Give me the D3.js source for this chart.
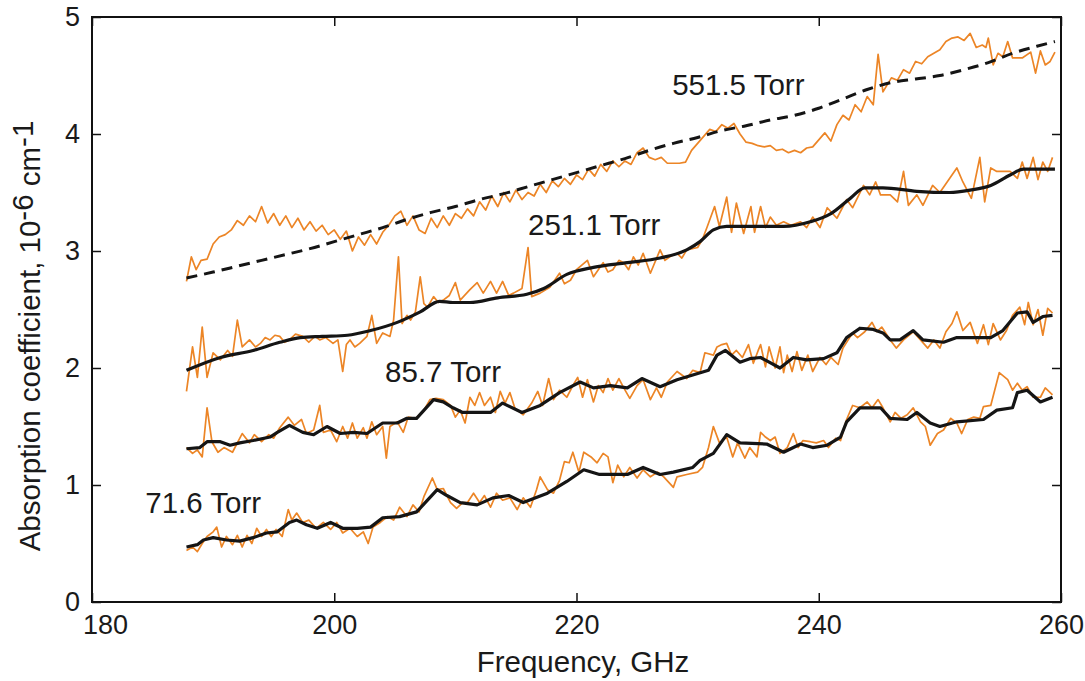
<!DOCTYPE html>
<html>
<head>
<meta charset="utf-8">
<script src="https://cdn.jsdelivr.net/npm/d3@7"></script>
<style>
  html, body { margin: 0; padding: 0; background: #fff; }
  svg { display: block; font-family: "Liberation Sans", Arial, sans-serif; }
</style>
</head>
<body>
<svg id="chart" width="1085" height="681"></svg>
<script>
// ---------------- DATA (frequency GHz, absorption 1e-6 cm^-1) ----------------
const xTicks = [180, 200, 220, 240, 260];
const yTicks = [0, 1, 2, 3, 4, 5];

const meas551 = [
[187.8,2.74],[188.2,2.95],[188.6,2.84],[189.0,2.92],[189.5,2.93],[190.0,3.06],[190.5,3.12],[191.0,3.14],[191.5,3.18],[192.0,3.26],
[192.5,3.22],[193.0,3.30],[193.5,3.25],[194.0,3.38],[194.5,3.24],[195.0,3.32],[195.5,3.22],[196.0,3.30],[196.5,3.20],[197.0,3.28],
[197.5,3.18],[198.0,3.25],[198.5,3.17],[199.0,3.22],[199.5,3.14],[200.0,3.18],[200.5,3.10],[201.0,3.17],[201.5,3.00],[202.0,3.12],
[202.5,3.05],[203.0,3.14],[203.5,3.06],[204.0,3.16],[204.5,3.22],[205.0,3.30],[205.5,3.34],[206.0,3.22],[206.5,3.30],[207.0,3.18],
[207.5,3.15],[208.0,3.28],[208.5,3.20],[209.0,3.30],[209.5,3.22],[210.0,3.32],[210.5,3.28],[211.0,3.36],[211.5,3.30],[212.0,3.42],
[212.5,3.35],[213.0,3.47],[213.5,3.38],[214.0,3.50],[214.5,3.42],[215.0,3.52],[215.5,3.44],[216.0,3.50],[216.5,3.47],[217.0,3.57],
[217.5,3.50],[218.0,3.60],[218.5,3.55],[219.0,3.62],[219.5,3.57],[220.0,3.65],[220.5,3.61],[221.0,3.70],[221.5,3.64],[222.0,3.74],
[222.5,3.68],[223.0,3.77],[223.5,3.72],[224.0,3.77],[224.5,3.74],[225.0,3.84],[225.5,3.88],[226.0,3.80],[226.5,3.78],[227.0,3.80],
[227.5,3.75],[228.5,3.75],[229.0,3.76],[229.5,3.86],[230.0,3.92],[230.5,3.98],[231.0,4.04],[231.5,4.02],[232.0,4.08],[232.5,4.05],
[233.0,4.09],[233.5,4.00],[234.0,3.93],[234.5,3.92],[235.0,3.90],[235.5,3.89],[236.0,3.90],[236.5,3.86],[237.0,3.87],[237.5,3.84],
[238.0,3.86],[238.5,3.84],[239.0,3.88],[239.5,3.89],[240.0,3.95],[240.5,4.01],[241.0,3.94],[241.5,4.08],[242.0,4.16],[242.5,4.12],
[243.0,4.25],[243.5,4.19],[244.0,4.32],[244.5,4.25],[244.9,4.68],[245.3,4.36],[246.0,4.48],[246.5,4.46],[247.0,4.55],[247.5,4.52],
[248.0,4.62],[248.5,4.60],[249.0,4.66],[249.5,4.69],[250.0,4.72],[250.5,4.79],[251.0,4.82],[251.5,4.83],[252.0,4.80],[252.5,4.86],
[253.0,4.74],[253.5,4.76],[253.8,4.74],[254.0,4.82],[254.4,4.59],[254.8,4.69],[255.2,4.66],[255.6,4.79],[256.0,4.65],[256.8,4.65],
[257.5,4.70],[257.9,4.52],[258.3,4.71],[258.7,4.59],[259.1,4.62],[259.5,4.70]
];
const fit551 = [
[187.8,2.77],[190,2.82],[192,2.87],[194,2.92],[196,2.97],[198,3.02],[200,3.08],[202,3.14],[204,3.20],[206,3.27],
[208,3.33],[210,3.38],[212,3.44],[214,3.49],[216,3.55],[218,3.61],[220,3.67],[222,3.73],[224,3.79],[226,3.86],
[228,3.92],[230,3.97],[232,4.03],[234,4.07],[236,4.12],[238,4.16],[240,4.22],[242,4.30],[244,4.38],[246,4.44],
[248,4.47],[250,4.50],[252,4.55],[254,4.61],[256,4.69],[258,4.75],[259.5,4.79]
];

const meas251 = [
[187.8,1.80],[188.3,2.18],[188.7,1.92],[189.1,2.35],[189.5,1.92],[190.0,2.13],[190.6,2.07],[191.2,2.15],[191.6,2.10],[192.0,2.41],
[192.4,2.18],[193.0,2.24],[193.5,2.18],[193.9,2.21],[194.3,2.26],[194.7,2.24],[195.1,2.28],[195.5,2.27],[195.9,2.22],[196.3,2.24],
[196.8,2.29],[197.4,2.27],[197.9,2.22],[198.4,2.27],[198.8,2.24],[199.3,2.26],[199.9,2.21],[200.3,2.24],[200.7,1.97],[201.0,2.20],
[201.3,2.24],[201.7,2.18],[202.1,2.21],[202.7,2.27],[203.1,2.45],[203.5,2.21],[204.0,2.30],[204.6,2.27],[204.9,2.41],[205.3,2.95],
[205.6,2.38],[206.0,2.45],[206.3,2.41],[206.7,2.48],[207.1,2.78],[207.4,2.55],[207.7,2.52],[208.2,2.61],[208.6,2.56],[209.0,2.58],
[209.5,2.62],[210.0,2.73],[210.4,2.58],[211.2,2.67],[211.8,2.73],[212.3,2.64],[212.9,2.74],[213.4,2.64],[213.9,2.74],[214.4,2.62],
[214.8,2.64],[215.5,2.68],[216.0,3.03],[216.3,2.61],[217.0,2.64],[217.8,2.69],[218.6,2.81],[219.0,2.72],[219.5,2.75],[220.0,2.84],
[220.9,2.92],[221.4,2.78],[222.2,2.90],[222.6,2.82],[223.0,2.84],[223.5,2.92],[223.9,2.90],[224.3,2.84],[224.7,2.95],[225.1,2.88],
[225.5,2.98],[226.1,2.81],[226.9,3.01],[227.3,2.92],[227.7,2.95],[228.3,2.98],[228.7,2.94],[229.1,3.01],[230.0,3.03],[230.4,3.10],
[230.8,3.21],[231.4,3.38],[231.8,3.21],[232.4,3.46],[232.8,3.16],[233.2,3.41],[233.8,3.15],[234.4,3.38],[234.7,3.16],[235.2,3.38],
[235.6,3.20],[236.0,3.29],[236.5,3.22],[237.1,3.25],[237.7,3.22],[238.5,3.25],[239.0,3.20],[239.5,3.29],[240.1,3.20],[240.7,3.37],
[241.5,3.28],[242.3,3.44],[242.8,3.37],[243.7,3.56],[244.2,3.48],[244.7,3.59],[245.1,3.48],[245.9,3.48],[246.5,3.42],[247.0,3.68],
[247.4,3.39],[248.1,3.48],[248.6,3.39],[249.4,3.56],[250.0,3.50],[250.8,3.62],[251.4,3.71],[251.9,3.59],[252.6,3.45],[253.3,3.80],
[253.7,3.42],[254.2,3.71],[254.7,3.68],[255.2,3.68],[255.8,3.68],[256.4,3.62],[256.8,3.76],[257.2,3.62],[257.7,3.80],[258.1,3.61],
[258.5,3.76],[258.9,3.68],[259.3,3.80]
];
const fit251 = [
[187.8,1.98],[190.6,2.09],[193.3,2.15],[195.5,2.22],[197.2,2.26],[199.0,2.27],[201.1,2.28],[203.0,2.32],[205.2,2.39],[207.1,2.48],
[208.7,2.57],[209.8,2.56],[211.2,2.56],[213.5,2.60],[215.9,2.63],[217.3,2.68],[219.2,2.80],[221.4,2.86],[224.2,2.90],[226.9,2.94],
[229.1,3.01],[230.2,3.08],[231.3,3.18],[232.4,3.21],[235.2,3.21],[237.1,3.21],[239.3,3.25],[241.0,3.32],[242.6,3.45],[243.8,3.54],
[245.3,3.54],[248.1,3.51],[250.8,3.50],[252.5,3.52],[254.2,3.56],[255.8,3.65],[256.9,3.70],[259.1,3.70],[259.5,3.70]
];

const meas857 = [
[187.8,1.32],[188.3,1.27],[188.7,1.30],[189.1,1.24],[189.5,1.66],[189.9,1.37],[190.4,1.28],[190.9,1.32],[191.6,1.28],[192.0,1.36],
[192.4,1.44],[193.0,1.36],[193.4,1.43],[194.0,1.37],[194.6,1.43],[195.0,1.40],[195.5,1.49],[196.2,1.58],[196.7,1.51],[197.3,1.56],
[197.7,1.44],[198.3,1.47],[198.8,1.68],[199.1,1.45],[199.7,1.47],[200.2,1.37],[200.7,1.50],[201.1,1.40],[201.5,1.53],[201.9,1.40],
[202.4,1.49],[202.7,1.40],[203.1,1.54],[203.5,1.43],[204.0,1.50],[204.3,1.23],[204.6,1.50],[205.2,1.54],[205.7,1.45],[206.1,1.58],
[206.7,1.57],[207.3,1.62],[207.9,1.73],[208.4,1.74],[209.0,1.73],[209.6,1.68],[210.0,1.58],[210.4,1.64],[210.8,1.53],[211.2,1.75],
[211.6,1.68],[212.0,1.79],[212.4,1.68],[212.9,1.75],[213.3,1.62],[213.7,1.80],[214.1,1.70],[214.5,1.79],[214.9,1.66],[215.6,1.60],
[216.3,1.70],[216.8,1.80],[217.2,1.68],[217.7,1.91],[218.1,1.73],[218.6,1.81],[219.2,1.75],[219.7,1.85],[220.1,1.92],[220.5,1.75],
[220.9,1.90],[221.4,1.71],[221.8,1.85],[222.2,1.79],[222.6,1.91],[223.0,1.81],[223.5,1.91],[223.9,1.83],[224.4,1.74],[225.0,1.85],
[225.5,1.90],[226.1,1.73],[226.6,1.83],[227.0,1.75],[227.5,1.88],[228.3,1.97],[229.1,1.91],[229.6,1.98],[230.2,1.96],[230.6,2.13],
[231.3,2.11],[231.6,2.18],[232.0,2.20],[232.4,2.21],[232.8,2.11],[233.2,2.15],[233.7,2.09],[234.2,2.20],[234.6,2.04],[235.0,2.15],
[235.2,2.20],[235.6,2.01],[235.9,2.18],[236.4,2.00],[236.8,2.18],[237.1,1.96],[237.4,2.11],[237.8,1.97],[238.2,2.14],[238.6,1.98],
[239.1,2.11],[239.5,1.97],[240.1,2.09],[240.6,2.03],[241.0,2.09],[241.6,2.03],[242.0,2.17],[242.8,2.30],[243.2,2.26],[243.8,2.31],
[244.4,2.39],[244.8,2.31],[245.2,2.35],[245.9,2.24],[246.4,2.17],[247.0,2.24],[247.8,2.31],[248.4,2.24],[249.0,2.17],[249.5,2.24],
[250.0,2.17],[250.5,2.31],[251.0,2.38],[251.4,2.48],[251.9,2.32],[252.5,2.39],[253.1,2.21],[253.6,2.37],[254.0,2.20],[254.4,2.38],
[255.0,2.24],[255.5,2.32],[256.0,2.45],[256.6,2.52],[257.0,2.37],[257.3,2.56],[257.7,2.37],[258.1,2.50],[258.5,2.28],[258.9,2.51],
[259.3,2.47]
];
const fit857 = [
[187.8,1.31],[188.9,1.32],[189.5,1.37],[190.6,1.37],[191.4,1.34],[192.2,1.36],[193.3,1.38],[194.7,1.41],[195.3,1.45],[196.3,1.51],
[197.4,1.45],[198.3,1.43],[199.4,1.50],[200.5,1.44],[201.6,1.45],[202.7,1.44],[204.0,1.53],[205.2,1.53],[206.0,1.57],[206.8,1.57],
[208.2,1.73],[209.0,1.71],[209.8,1.66],[210.6,1.62],[212.9,1.62],[213.9,1.70],[215.5,1.62],[217.0,1.68],[218.6,1.79],[220.3,1.88],
[221.4,1.83],[222.8,1.85],[224.2,1.83],[225.4,1.91],[226.9,1.84],[228.3,1.90],[229.6,1.94],[230.9,1.98],[231.6,2.11],[232.3,2.15],
[233.5,2.05],[234.3,2.08],[235.2,2.09],[236.8,2.00],[237.9,2.09],[239.0,2.07],[240.4,2.08],[241.5,2.13],[242.3,2.26],[243.4,2.34],
[244.5,2.33],[245.3,2.30],[245.9,2.24],[246.7,2.24],[247.8,2.32],[248.6,2.24],[250.3,2.22],[251.4,2.26],[253.1,2.26],[254.2,2.26],
[255.2,2.32],[256.4,2.47],[257.2,2.48],[257.7,2.39],[258.5,2.44],[259.3,2.45]
];

const meas716 = [
[187.8,0.44],[188.3,0.47],[188.7,0.43],[189.1,0.50],[189.5,0.56],[190.0,0.60],[190.3,0.64],[190.7,0.47],[191.1,0.56],[191.6,0.49],
[192.0,0.57],[192.4,0.47],[192.8,0.57],[193.2,0.50],[193.6,0.63],[194.0,0.56],[194.4,0.62],[194.8,0.56],[195.2,0.62],[195.7,0.56],
[196.2,0.79],[196.5,0.70],[196.9,0.76],[197.4,0.68],[197.9,0.70],[198.5,0.63],[199.1,0.68],[199.7,0.62],[200.2,0.68],[200.7,0.59],
[201.3,0.63],[201.9,0.56],[202.4,0.60],[202.8,0.50],[203.2,0.64],[203.8,0.68],[204.4,0.73],[204.9,0.70],[205.4,0.81],[206.0,0.73],
[206.5,0.83],[207.0,0.77],[207.4,0.90],[208.1,1.06],[208.5,0.96],[209.0,0.97],[209.6,0.85],[210.1,0.80],[210.6,0.85],[211.0,0.85],
[211.5,0.93],[212.0,0.85],[212.4,0.91],[212.9,0.81],[213.4,0.93],[213.9,0.87],[214.5,0.89],[215.1,0.79],[215.6,0.89],[216.2,0.81],
[216.7,0.96],[217.0,1.07],[217.6,0.96],[218.1,0.93],[218.6,1.04],[219.0,1.20],[219.4,1.19],[219.7,1.28],[220.2,1.11],[220.6,1.28],
[221.2,1.24],[221.7,1.19],[222.2,1.27],[222.6,1.24],[223.0,1.02],[223.4,1.17],[223.9,1.07],[224.4,1.15],[225.0,1.06],[225.5,1.13],
[226.1,1.07],[226.7,1.11],[227.2,1.07],[228.0,0.98],[228.3,1.07],[229.1,1.09],[230.0,1.11],[230.4,1.15],[230.9,1.32],[231.3,1.50],
[231.8,1.36],[232.4,1.41],[232.9,1.24],[233.3,1.36],[233.9,1.23],[234.3,1.32],[234.9,1.24],[235.2,1.45],[235.6,1.41],[236.0,1.38],
[236.4,1.41],[236.8,1.27],[237.4,1.32],[237.9,1.44],[238.3,1.32],[238.7,1.38],[239.3,1.37],[239.8,1.36],[240.4,1.38],[240.8,1.32],
[241.4,1.40],[241.8,1.38],[242.3,1.56],[242.8,1.68],[243.4,1.66],[244.0,1.71],[244.4,1.66],[244.9,1.73],[245.3,1.66],[245.9,1.54],
[246.3,1.62],[246.8,1.57],[247.3,1.60],[247.8,1.66],[248.4,1.54],[248.8,1.50],[249.2,1.34],[249.8,1.44],[250.3,1.47],[250.9,1.57],
[251.4,1.53],[251.8,1.44],[252.3,1.56],[252.8,1.58],[253.3,1.57],[253.6,1.67],[254.2,1.68],[254.9,1.96],[255.6,1.90],[256.0,1.81],
[256.4,1.87],[256.8,1.81],[257.2,1.84],[257.7,1.75],[258.3,1.75],[258.7,1.83],[259.3,1.77]
];
const fit716 = [
[187.8,0.47],[188.7,0.49],[189.2,0.53],[190.0,0.55],[191.1,0.53],[192.2,0.52],[193.3,0.55],[194.4,0.59],[195.3,0.60],[196.3,0.68],
[196.9,0.70],[197.7,0.66],[198.6,0.63],[199.7,0.68],[200.7,0.63],[201.9,0.63],[203.0,0.64],[204.0,0.72],[205.4,0.73],[206.8,0.77],
[207.7,0.87],[208.5,0.96],[209.3,0.91],[210.4,0.85],[211.8,0.83],[213.1,0.89],[214.4,0.91],[215.6,0.85],[217.6,0.93],[219.2,1.03],
[220.6,1.13],[221.9,1.09],[224.2,1.09],[225.5,1.15],[226.9,1.09],[228.0,1.11],[229.6,1.15],[230.2,1.21],[231.3,1.27],[232.4,1.43],
[233.5,1.36],[235.7,1.35],[237.1,1.28],[238.5,1.35],[239.5,1.32],[240.7,1.34],[241.8,1.41],[242.3,1.54],[243.4,1.66],[245.1,1.66],
[245.9,1.57],[247.3,1.56],[248.1,1.62],[249.2,1.53],[250.0,1.50],[251.4,1.54],[253.6,1.56],[254.7,1.64],[256.0,1.66],[256.4,1.79],
[257.2,1.81],[258.3,1.71],[259.3,1.75]
];

const labels = [
  {text: "551.5 Torr", f: 227.9, v: 4.33},
  {text: "251.1 Torr", f: 216.0, v: 3.14},
  {text: "85.7 Torr",  f: 204.2, v: 1.88},
  {text: "71.6 Torr",  f: 184.4, v: 0.76}
];

// ---------------- CHART ----------------
const W = 1085, H = 681;
const m = {left: 92, right: 24, top: 17, bottom: 79};
const svg = d3.select("#chart");
const x = d3.scaleLinear().domain([180, 260]).range([m.left, W - m.right]);
const y = d3.scaleLinear().domain([0, 5]).range([H - m.bottom, m.top]);

const orange = "#EC8526";
const lineGen = (curve) => d3.line().x(d => x(d[0])).y(d => y(d[1])).curve(curve);

const plot = svg.append("g");
[meas551, meas251, meas857, meas716].forEach(s => {
  plot.append("path").datum(s).attr("d", lineGen(d3.curveLinear))
    .attr("fill", "none").attr("stroke", orange).attr("stroke-width", 1.7)
    .attr("stroke-linejoin", "round");
});
plot.append("path").datum(fit551).attr("d", lineGen(d3.curveMonotoneX))
  .attr("fill", "none").attr("stroke", "#151515").attr("stroke-width", 3)
  .attr("stroke-dasharray", "11,7");
[[fit251, d3.curveMonotoneX], [fit857, d3.curveLinear], [fit716, d3.curveLinear]].forEach(([s, c]) => {
  plot.append("path").datum(s).attr("d", lineGen(c))
    .attr("fill", "none").attr("stroke", "#151515").attr("stroke-width", 3.2)
    .attr("stroke-linejoin", "round");
});

// Axes (box with inward ticks)
const fsTick = 27, fsTitle = 29.5, fsLabel = 29.5;
const fontFam = "'Liberation Sans', Arial, sans-serif";
const gx = svg.append("g").attr("transform", `translate(0,${H - m.bottom})`)
  .call(d3.axisBottom(x).tickValues(xTicks).tickSizeInner(-9).tickSizeOuter(0).tickPadding(13).tickFormat(d3.format("d")));
const gxt = svg.append("g").attr("transform", `translate(0,${m.top})`)
  .call(d3.axisTop(x).tickValues(xTicks).tickSizeInner(-9).tickSizeOuter(0).tickFormat(""));
const gy = svg.append("g").attr("transform", `translate(${m.left},0)`)
  .call(d3.axisLeft(y).tickValues(yTicks).tickSizeInner(-9).tickSizeOuter(0).tickPadding(12).tickFormat(d3.format("d")));
const gyr = svg.append("g").attr("transform", `translate(${W - m.right},0)`)
  .call(d3.axisRight(y).tickValues(yTicks).tickSizeInner(-9).tickSizeOuter(0).tickFormat(""));
[gx, gxt, gy, gyr].forEach(g => {
  g.select(".domain").remove();
  g.selectAll(".tick line").attr("stroke", "#111").attr("stroke-width", 1.5);
  g.selectAll("text").attr("font-size", fsTick).attr("fill", "#1a1a1a")
    .attr("font-family", fontFam);
});
// first x label sits shifted right of its tick (as in the original figure)
gx.selectAll(".tick text").filter(d => d === 180).attr("dx", 13);

svg.append("rect").attr("x", m.left).attr("y", m.top)
  .attr("width", W - m.left - m.right).attr("height", H - m.top - m.bottom)
  .attr("fill", "none").attr("stroke", "#111").attr("stroke-width", 2);

// Axis titles
svg.append("text").attr("x", 583).attr("y", 672)
  .attr("text-anchor", "middle").attr("font-size", fsTitle).attr("fill", "#1a1a1a")
  .text("Frequency, GHz");
const yt = svg.append("text").attr("transform", `translate(40,336) rotate(-90)`)
  .attr("text-anchor", "middle").attr("font-size", fsTitle).attr("fill", "#1a1a1a");
yt.append("tspan").text("Absorption coefficient, 10");
yt.append("tspan").attr("font-size", fsTitle).attr("dy", -7).text("-6");
yt.append("tspan").attr("dy", 7).text(" cm");
yt.append("tspan").attr("font-size", fsTitle).attr("dy", -7).text("-1");

// Pressure labels
svg.append("g").selectAll("text").data(labels).join("text")
  .attr("x", d => x(d.f)).attr("y", d => y(d.v))
  .attr("font-size", fsLabel).attr("fill", "#1a1a1a")
  .text(d => d.text);
</script>
</body>
</html>
